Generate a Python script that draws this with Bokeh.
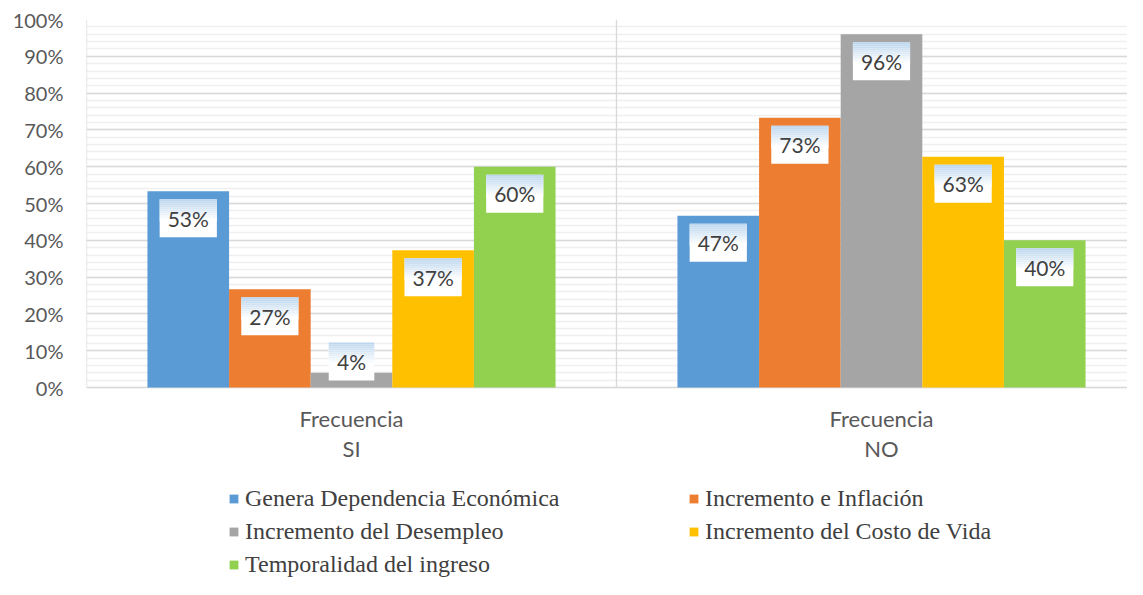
from bokeh.plotting import figure
from bokeh.models import (Range1d, FixedTicker, NumeralTickFormatter, Legend,
                          LegendItem, ColumnDataSource)
from bokeh.core.properties import value
from bokeh.embed import file_html
from bokeh.resources import INLINE

# ---------------- data ----------------
categories = ["Frecuencia\nSI", "Frecuencia\nNO"]
series_names = ["Genera Dependencia Económica", "Incremento e Inflación",
                "Incremento del Desempleo", "Incremento del Costo de Vida",
                "Temporalidad del ingreso"]
genera_dependencia = [0.5333, 0.4667]
incremento_inflacion = [0.2667, 0.7333]
incremento_desempleo = [0.04, 0.96]
incremento_costo_vida = [0.3733, 0.6267]
temporalidad_ingreso = [0.60, 0.40]
series_values = [genera_dependencia, incremento_inflacion, incremento_desempleo,
                 incremento_costo_vida, temporalidad_ingreso]
colors = ["#5b9bd5", "#ed7d31", "#a5a5a5", "#ffc000", "#92d050"]
y_ticks = [i / 10 for i in range(11)]

# ---------------- layout ----------------
W, H = 1127, 579
LEFT, TOP = 86, 19
PLOT_H = 368                      # pixels from 0% to 100%
frame_w = W - LEFT
frame_h = H - TOP
cat_px = 530.0
PX = 1.0 / PLOT_H                 # one pixel in y data units
bw = 0.77 / 5                     # bar width in category units

p = figure(width=W, height=H, output_backend="svg", toolbar_location=None,
           x_range=Range1d(0, frame_w / cat_px),
           y_range=Range1d(-(frame_h - PLOT_H) * PX, 1),
           min_border_left=LEFT, min_border_right=0, min_border_top=TOP,
           min_border_bottom=0)
p.outline_line_color = None
p.background_fill_color = "white"
p.xaxis.visible = False

# grids
p.ygrid.ticker = FixedTicker(ticks=y_ticks,
                             minor_ticks=[k * 0.02 for k in range(51)])
p.ygrid.grid_line_color = "#d9d9d9"
p.ygrid.grid_line_width = 1.3
p.ygrid.minor_grid_line_color = "#efefef"
p.ygrid.minor_grid_line_width = 1.3
p.xgrid.visible = False
bounds = list(range(len(categories) + 1))
p.segment(x0=bounds, y0=[0] * len(bounds), x1=bounds, y1=[1] * len(bounds),
          line_color="#d9d9d9", line_width=1.3)

# y axis
p.yaxis.ticker = FixedTicker(ticks=y_ticks)
p.yaxis.formatter = NumeralTickFormatter(format="0%")
p.yaxis.axis_line_color = None
p.yaxis.major_tick_line_color = None
p.yaxis.minor_tick_line_color = None
p.yaxis.major_tick_out = 0
p.yaxis.major_label_standoff = 23
p.yaxis.major_label_text_font = "Lato"
p.yaxis.major_label_text_font_size = "20px"
p.yaxis.major_label_text_color = "#595959"

# category labels (two lines each)
cat_centers = [i + 0.5 for i in range(len(categories))]
line1 = [c.split("\n")[0] for c in categories]
line2 = [c.split("\n")[1] for c in categories]
for lines, off in ((line1, 31), (line2, 61)):
    p.text(x=cat_centers, y=[-off * PX] * len(cat_centers), text=lines,
           text_align="center", text_baseline="middle",
           text_font=value("Lato"), text_font_size="22px",
           text_color="#595959")

# bars + labels
renderers = []
for si, (name, vals, col) in enumerate(zip(series_names, series_values, colors)):
    xs = [c + (si - 2) * bw for c in cat_centers]
    src = ColumnDataSource(dict(x=xs, top=vals))
    r = p.vbar(x="x", top="top", width=bw, bottom=0, source=src,
               fill_color=col, line_color=None)
    renderers.append(r)

    texts = [f"{round(v * 100)}%" for v in vals]
    centers = [max(v - 27 * PX, 26 * PX) for v in vals]
    widths = [18 + 11.6 * (len(t) - 1) + 16 for t in texts]
    p.rect(x=xs, y=centers, width=widths, height=38, width_units="screen",
           height_units="screen", fill_color="white", line_color=None)
    n = 11
    c0 = (0xbd, 0xd7, 0xee)
    for k in range(n):
        t = k / (n - 1)
        rgb = tuple(int(round(a + (255 - a) * t)) for a in c0)
        colr = "#%02x%02x%02x" % rgb
        ys = [c + 19 * PX - (k + 0.5) * 2 * PX for c in centers]
        p.rect(x=xs, y=ys, width=widths, height=2, width_units="screen",
               height_units="screen", fill_color=colr, line_color=None)
    p.text(x=xs, y=centers, text=texts, text_align="center",
           text_baseline="middle", text_font=value("Lato"),
           text_font_size="21px", text_color="#404040")

# legends (two columns)
def make_legend(idx, loc):
    return Legend(items=[LegendItem(label=series_names[i], renderers=[renderers[i]])
                         for i in idx],
                  location=loc, orientation="vertical",
                  glyph_width=11, glyph_height=11, label_standoff=6,
                  label_text_font="Liberation Serif", label_text_font_size="24px",
                  label_text_color="#404040", label_height=26, spacing=6,
                  padding=0, margin=0, border_line_color=None,
                  background_fill_alpha=0)

p.add_layout(make_legend([0, 2, 4], (142, 1)), "center")
p.add_layout(make_legend([1, 3], (602, 34)), "center")

open("out.html", "w").write(file_html(p, INLINE))
